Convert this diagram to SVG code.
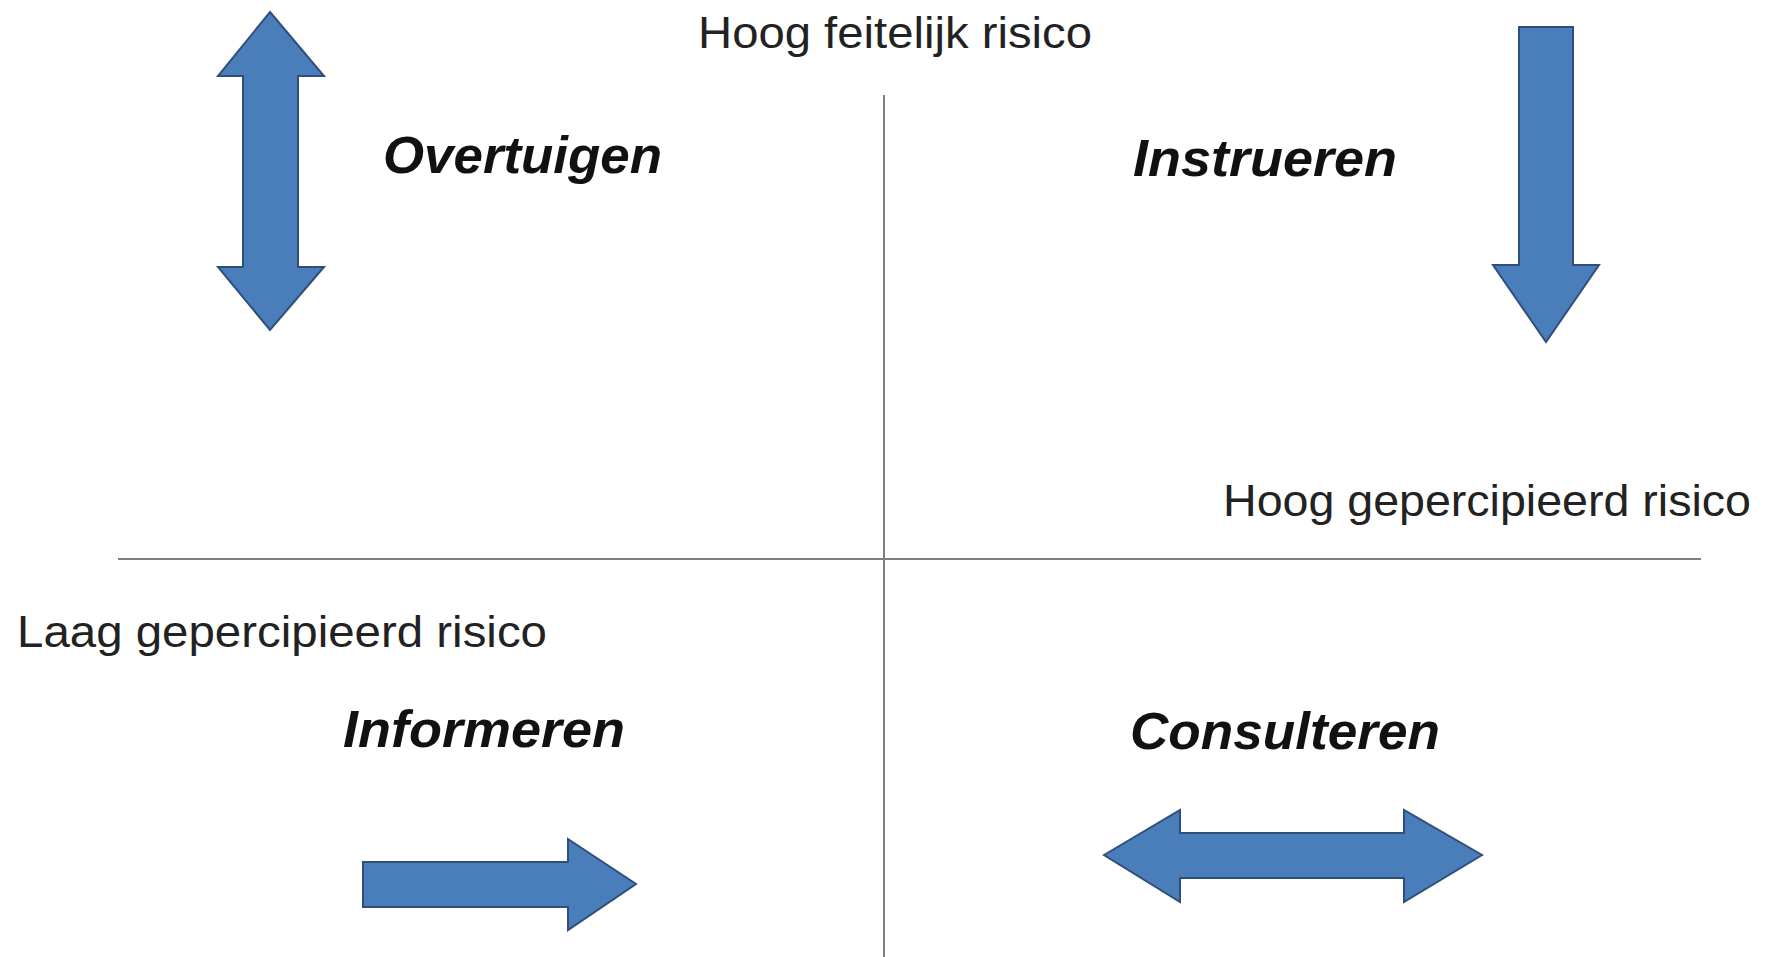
<svg xmlns="http://www.w3.org/2000/svg" width="1765" height="957" viewBox="0 0 1765 957">
<style>
.arrow{fill:#4a7ebb;stroke:#2f4f7a;stroke-width:2;stroke-linejoin:miter}
.axis{stroke:#7f7f7f;stroke-width:2;fill:none}
.lbl{font-family:"Liberation Sans",Arial,sans-serif;font-size:45px;fill:#222}
.quad{font-family:"Liberation Sans",Arial,sans-serif;font-size:52px;font-weight:bold;font-style:italic;fill:#111}
</style>
<rect width="1765" height="957" fill="#ffffff"/>
<g id="connectors">
<line class="axis" x1="884" y1="95" x2="884" y2="957"/>
<line class="axis" x1="118" y1="559" x2="1701" y2="559"/>
</g>
<g id="axis-labels">
<text class="lbl" x="698" y="48" textLength="394" lengthAdjust="spacingAndGlyphs">Hoog feitelijk risico</text>
<text class="lbl" x="1223" y="516" textLength="528" lengthAdjust="spacingAndGlyphs">Hoog gepercipieerd risico</text>
<text class="lbl" x="17" y="647" textLength="530" lengthAdjust="spacingAndGlyphs">Laag gepercipieerd risico</text>
</g>
<g id="overtuigen">
<text class="quad" x="383" y="173" textLength="279" lengthAdjust="spacingAndGlyphs">Overtuigen</text>
<polygon class="arrow" points="270,12 324,76 298,76 298,267 324,267 270,330 218,267 243,267 243,76 218,76"/>
</g>
<g id="instrueren">
<text class="quad" x="1133" y="176" textLength="264" lengthAdjust="spacingAndGlyphs">Instrueren</text>
<polygon class="arrow" points="1519,27 1573,27 1573,265 1599,265 1546,342 1493,265 1519,265"/>
</g>
<g id="informeren">
<text class="quad" x="343" y="747" textLength="282" lengthAdjust="spacingAndGlyphs">Informeren</text>
<polygon class="arrow" points="363,862 568,862 568,839 636,884 568,930 568,907 363,907"/>
</g>
<g id="consulteren">
<text class="quad" x="1130" y="749" textLength="310" lengthAdjust="spacingAndGlyphs">Consulteren</text>
<polygon class="arrow" points="1104,855 1180,810 1180,833 1404,833 1404,810 1482,855 1404,902 1404,878 1180,878 1180,902"/>
</g>
</svg>
